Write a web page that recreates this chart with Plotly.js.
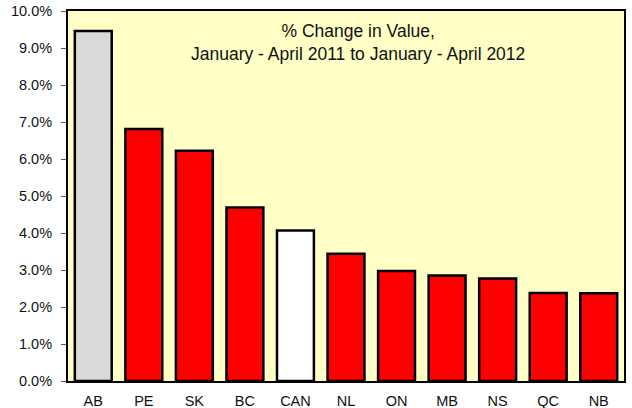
<!DOCTYPE html>
<html>
<head>
<meta charset="utf-8">
<script src="https://cdn.plot.ly/plotly-3.0.1.min.js"></script>
<style>html,body{margin:0;padding:0;background:#fff;}#chart{width:632px;height:408px;}</style>
</head>
<body>
<div id="chart"></div>
<script>
const categories = ["AB","PE","SK","BC","CAN","NL","ON","MB","NS","QC","NB"];
const values = [9.46, 6.81, 6.22, 4.69, 4.07, 3.44, 2.97, 2.85, 2.77, 2.38, 2.37];
const barColors = ["#D9D9D9","#FF0000","#FF0000","#FF0000","#FFFFFF","#FF0000","#FF0000","#FF0000","#FF0000","#FF0000","#FF0000"];
const yTickVals = [0,1,2,3,4,5,6,7,8,9,10];
const yTickText = yTickVals.map(v => v.toFixed(1) + "%");
const titleText = "% Change in Value,<br>January - April 2011 to January - April 2012";

const trace = {
  type: "bar",
  x: categories,
  y: values,
  marker: {color: barColors, line: {color: "#000", width: 2.5}},
  hoverinfo: "none"
};
const layout = {
  width: 632, height: 408,
  margin: {l: 68, r: 8, t: 11, b: 27},
  paper_bgcolor: "#FFFFFF",
  plot_bgcolor: "#FFFFC6",
  bargap: 0.27,
  showlegend: false,
  font: {family: "Liberation Sans, Arial, sans-serif", size: 14, color: "#111"},
  xaxis: {
    showline: true, linecolor: "#000", linewidth: 2, mirror: true,
    ticks: "outside", ticklen: 6, tickcolor: "rgba(0,0,0,0)", showgrid: false,
    tickfont: {size: 14.5}
  },
  yaxis: {
    range: [0, 10], tickvals: yTickVals, ticktext: yTickText,
    showline: true, linecolor: "#000", linewidth: 2, mirror: true,
    ticks: "outside", ticklen: 5, tickcolor: "#555", showgrid: false, zeroline: false,
    ticklabelstandoff: 6,
    tickfont: {size: 14.5}
  },
  annotations: [{
    text: titleText, xref: "paper", yref: "paper", x: 0.522, y: 0.914,
    xanchor: "center", yanchor: "middle", showarrow: false, align: "center",
    font: {size: 17.5, color: "#111"}
  }]
};
Plotly.newPlot("chart", [trace], layout, {staticPlot: true, displayModeBar: false});
</script>
</body>
</html>
